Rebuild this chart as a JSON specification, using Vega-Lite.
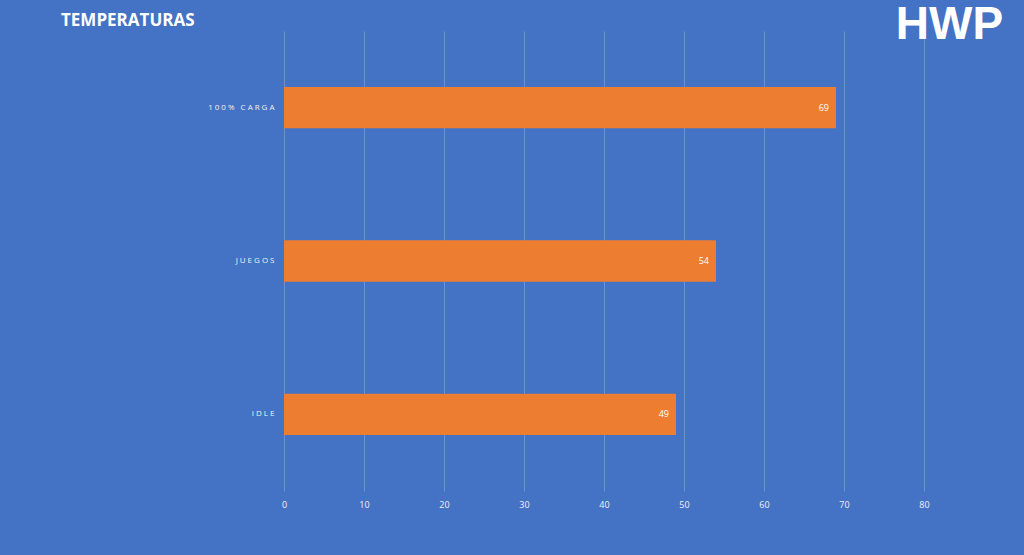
{
  "$schema": "https://vega.github.io/schema/vega-lite/v6.json",
  "width": 640,
  "height": 460,
  "autosize": {"type": "none"},
  "padding": {"left": 284, "top": 31, "right": 100, "bottom": 64},
  "background": "#4472C4",
  "title": {
    "text": "TEMPERATURAS",
    "anchor": "start",
    "frame": "group",
    "dx": -223,
    "offset": -41,
    "baseline": "alphabetic",
    "font": "Open Sans",
    "fontSize": 17,
    "fontWeight": "bold",
    "color": "#FFFFFF"
  },
  "data": {
    "values": [
      {"categoria": "100% CARGA", "valor": 69},
      {"categoria": "JUEGOS", "valor": 54},
      {"categoria": "IDLE", "valor": 49}
    ]
  },
  "config": {
    "view": {"stroke": null},
    "axis": {"labelFont": "Open Sans"}
  },
  "layer": [
    {
      "mark": {"type": "bar", "color": "#ED7D31"},
      "encoding": {
        "y": {
          "field": "categoria",
          "type": "nominal",
          "sort": null,
          "title": null,
          "scale": {"paddingInner": 0.73, "paddingOuter": 0.365},
          "axis": {
            "domain": false,
            "ticks": false,
            "grid": false,
            "labelPadding": 10,
            "labelFontSize": 8,
            "labelColor": "#F2F2F2",
            "labelExpr": "join(split(datum.label, ''), '\u2005')"
          }
        },
        "x": {
          "field": "valor",
          "type": "quantitative",
          "title": null,
          "scale": {"domain": [0, 80], "nice": false},
          "axis": {
            "values": [0, 10, 20, 30, 40, 50, 60, 70, 80],
            "domain": false,
            "ticks": false,
            "grid": true,
            "gridColor": "#FFFFFF",
            "gridOpacity": 0.22,
            "gridWidth": 1,
            "labelFlush": false,
            "labelPadding": 9,
            "labelFontSize": 9,
            "labelColor": "#F2F2F2"
          }
        }
      }
    },
    {
      "mark": {"type": "text", "align": "right", "dx": -7, "fontSize": 9, "font": "Open Sans", "color": "#FFFFFF"},
      "encoding": {
        "y": {"field": "categoria", "type": "nominal", "sort": null},
        "x": {"field": "valor", "type": "quantitative"},
        "text": {"field": "valor", "type": "quantitative"}
      }
    },
    {
      "data": {"values": [{"logo": "HWP", "pos": 83.19}]},
      "mark": {"type": "text", "align": "center", "baseline": "alphabetic", "fontSize": 46, "fontWeight": "bold", "font": "Liberation Sans", "color": "#FFFFFF", "clip": false},
      "encoding": {
        "x": {"field": "pos", "type": "quantitative"},
        "y": {"value": 8},
        "text": {"field": "logo", "type": "nominal"}
      }
    }
  ]
}
